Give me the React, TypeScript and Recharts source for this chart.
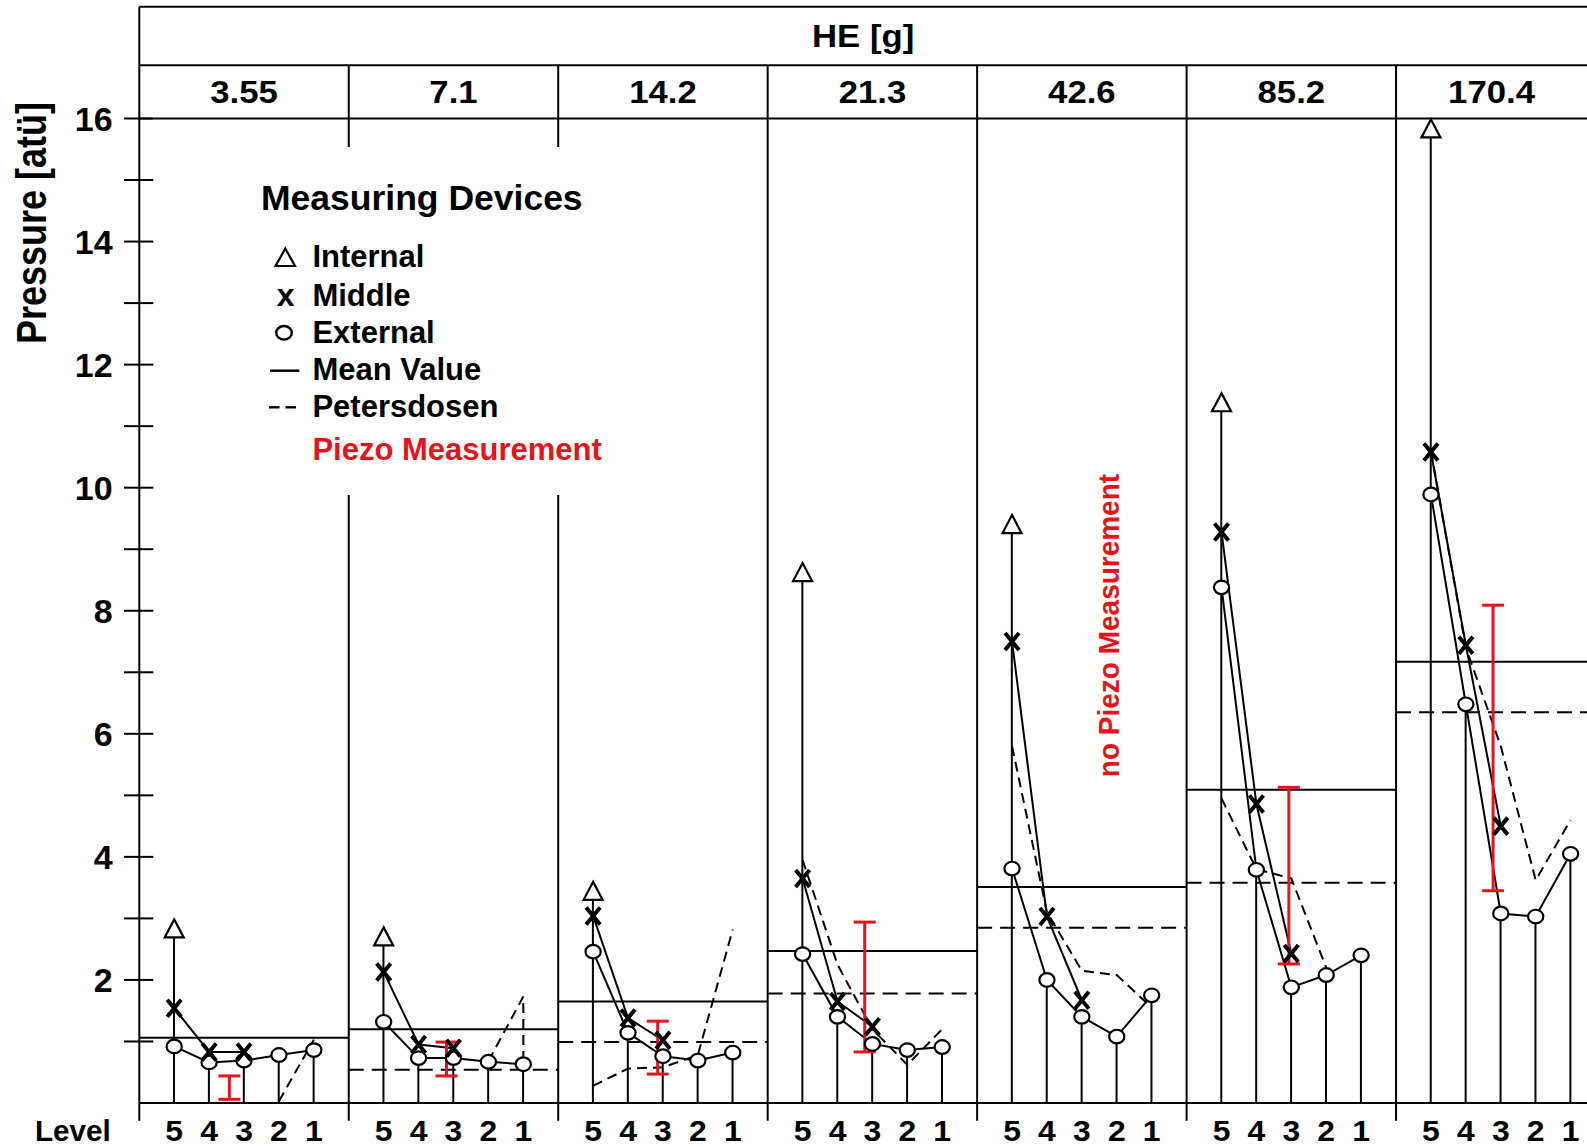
import React from "react";
import {
  ComposedChart,
  XAxis,
  YAxis,
  Bar,
  Line,
  Scatter,
  ErrorBar,
  ReferenceLine,
  ReferenceDot,
} from "recharts";

// ---------------- data ----------------
const heLabels = ["3.55", "7.1", "14.2", "21.3", "42.6", "85.2", "170.4"];
const levels = [5, 4, 3, 2, 1];
const yTicks = [1, 2, 3, 4, 5, 6, 7, 8, 9, 10, 11, 12, 13, 14, 15, 16];

// Internal device (level 5 only)
const internal = [2.83, 2.7, 3.44, 8.62, 9.4, 11.38, 15.83];
// Middle device at levels 5, 4, 3
const middle = [
  [1.54, 0.83, 0.83],
  [2.13, 0.95, 0.89],
  [3.04, 1.38, 1.02],
  [3.65, 1.65, 1.24],
  [7.5, 3.03, 1.67],
  [9.28, 4.86, 2.43],
  [10.58, 7.44, 4.5],
];
// External device at levels 5..1
const external = [
  [0.92, 0.66, 0.69, 0.78, 0.86],
  [1.32, 0.73, 0.73, 0.67, 0.63],
  [2.46, 1.14, 0.76, 0.69, 0.82],
  [2.42, 1.4, 0.96, 0.86, 0.91],
  [3.81, 2.0, 1.4, 1.08, 1.75],
  [8.38, 3.79, 1.88, 2.08, 2.4],
  [9.89, 6.48, 3.08, 3.03, 4.05],
];
const meanValue = [1.06, 1.2, 1.65, 2.47, 3.51, 5.09, 7.17];
const petersMean: (number | null)[] = [null, 0.54, 0.99, 1.78, 2.85, 3.58, 6.35];
// Petersdosen profile: [level, value]
const petersProfile: number[][][] = [
  [[2, 0.03], [1, 1.03]],
  [[2, 0.68], [1, 1.73], [1, 0.75]],
  [[5, 0.28], [4, 0.56], [3, 0.58], [2, 0.78], [1, 2.82]],
  [[5, 3.95], [4, 2.25], [3, 1.2], [2, 0.62], [1, 1.2]],
  [[5, 5.8], [4, 3.1], [3, 2.15], [2, 2.08], [1, 1.55]],
  [[5, 4.95], [4, 3.8], [3, 3.65], [2, 2.2]],
  [[5, 10.6], [4, 7.4], [3, 5.8], [2, 3.62], [1, 4.6]],
];
// Piezo measurement range (red), at a level between 4 and 3
const piezoLevel: (number | null)[] = [3.42, 3.2, 3.15, 3.22, null, 3.07, 3.22];
const piezoLow: (number | null)[] = [0.06, 0.44, 0.47, 0.83, null, 2.26, 3.45];
const piezoHigh: (number | null)[] = [0.44, 0.99, 1.33, 2.94, null, 5.13, 8.09];

// ---------------- layout / style ----------------
const FONT = "'Liberation Sans', Arial, Helvetica, sans-serif";
const RED = "#e5141b";
const BLACK = "#000";
const SLOT = 6; // x units per panel
const X_MAX = 41.47; // visible part of the x range
const HEADER_TOP = 17.817;
const HEADER_MID = 16.865;
const AXIS_LOW = -0.29;

const panels = heLabels.map((_, p) => p);
const xOf = (p: number, level: number) => p * SLOT + (SLOT - level);
// centre of the visible part of a header cell
const cellCentre = (start: number, end: number) => (start + Math.min(end, X_MAX)) / 2;

const stemData = panels.flatMap((p) =>
  levels.map((L, i) => ({ x: xOf(p, L), y: L === 5 ? internal[p] : external[p][i] }))
);
const levelTicks = panels.flatMap((p) => levels.map((L) => xOf(p, L)));
const internalData = panels.map((p) => ({ x: xOf(p, 5), y: internal[p] }));
const middleData = panels.map((p) =>
  middle[p].map((v, i) => ({ x: xOf(p, levels[i]), y: v }))
);
const externalData = panels.map((p) =>
  external[p].map((v, i) => ({ x: xOf(p, levels[i]), y: v }))
);
const meanData = panels.map((p) => [
  { x: p * SLOT, y: meanValue[p] },
  { x: p * SLOT + SLOT, y: meanValue[p] },
]);
const petersMeanData = panels
  .filter((p) => petersMean[p] !== null)
  .map((p) => [
    { x: p * SLOT, y: petersMean[p] as number },
    { x: p * SLOT + SLOT, y: petersMean[p] as number },
  ]);
const profileData = panels.map((p) =>
  petersProfile[p].map(([L, v]) => ({ x: xOf(p, L), y: v }))
);
const piezoData = panels
  .filter((p) => piezoLevel[p] !== null)
  .map((p) => {
    const lo = piezoLow[p] as number;
    const hi = piezoHigh[p] as number;
    return { x: xOf(p, piezoLevel[p] as number), y: (lo + hi) / 2, err: (hi - lo) / 2 };
  });

// ---------------- shapes ----------------
const Triangle = (props: any) => {
  const { cx, cy } = props;
  if (cx == null || cy == null) return <g />;
  return (
    <polygon
      points={`${cx},${cy - 9.5} ${cx + 9.5},${cy + 8.5} ${cx - 9.5},${cy + 8.5}`}
      fill="#fff"
      stroke={BLACK}
      strokeWidth={2.2}
      strokeLinejoin="miter"
    />
  );
};
const Cross = (props: any) => {
  const { cx, cy } = props;
  if (cx == null || cy == null) return <g />;
  return (
    <path
      d={`M${cx - 7},${cy - 8.5} L${cx + 7},${cy + 8.5} M${cx + 7},${cy - 8.5} L${cx - 7},${cy + 8.5}`}
      stroke={BLACK}
      strokeWidth={4}
      fill="none"
    />
  );
};
const Ring = (props: any) => {
  const { cx, cy } = props;
  if (cx == null || cy == null) return <g />;
  return <ellipse cx={cx} cy={cy} rx={7.6} ry={6.8} fill="#fff" stroke={BLACK} strokeWidth={2.2} />;
};
const NoMark = () => <g />;

const boldText = (
  label: string,
  x: number,
  y: number,
  size: number,
  sx: number,
  anchor: "start" | "middle" | "end",
  fill = BLACK
) => (
  <text
    transform={`translate(${x},${y}) scale(${sx},1)`}
    textAnchor={anchor}
    fontFamily={FONT}
    fontWeight="bold"
    fontSize={size}
    fill={fill}
  >
    {label}
  </text>
);

const YTick = (props: any) => {
  const { x, y, payload } = props;
  const v = payload.value;
  return (
    <g>
      <line x1={x - 15.3} x2={x + 14} y1={y} y2={y} stroke={BLACK} strokeWidth={2} />
      {v % 2 === 0 ? boldText(String(v), x - 26.6, y + 12, 34, 1.0, "end") : null}
    </g>
  );
};

const LevelTick = (props: any) => {
  const { x, y, payload } = props;
  const lvl = SLOT - Math.round(payload.value % SLOT);
  return boldText(String(lvl), x, y + 37.7, 29, 1.1, "middle");
};

const HeaderLabel = (label: string, size: number, sx: number) => (props: any) => {
  const { cx, cy } = props;
  if (cx == null || cy == null) return <g />;
  return boldText(label, cx, cy + 11, size, sx, "middle");
};

const VerticalNote = (props: any) => {
  const { cx, cy } = props;
  if (cx == null || cy == null) return <g />;
  return (
    <text
      transform={`translate(${cx},${cy}) scale(1.08,1) rotate(-90)`}
      y={10}
      textAnchor="middle"
      fontFamily={FONT}
      fontWeight="bold"
      fontSize={28}
      fill={RED}
    >
      no Piezo Measurement
    </text>
  );
};

export default function App() {
  return (
    <div style={{ position: "absolute", left: 0, top: 0, width: 1587, height: 1147, background: "#fff" }}>
      <ComposedChart
        width={1587}
        height={1147}
        data={stemData}
        margin={{ top: 118.5, right: 0, bottom: 0, left: 0 }}
      >
        <XAxis
          type="number"
          dataKey="x"
          domain={[0, X_MAX]}
          allowDataOverflow
          ticks={levelTicks}
          interval={0}
          tick={(p: any) => <LevelTick {...p} />}
          tickLine={false}
          axisLine={false}
          tickSize={0}
          tickMargin={0}
          height={44}
        />
        <YAxis
          type="number"
          domain={[0, 16]}
          ticks={yTicks}
          interval={0}
          tick={(p: any) => <YTick {...p} />}
          tickLine={false}
          axisLine={false}
          tickSize={0}
          tickMargin={0}
          width={139.3}
        />

        {/* frame: header rows, axis, baseline and panel separators */}
        <ReferenceLine y={HEADER_TOP} stroke={BLACK} strokeWidth={2} ifOverflow="visible" />
        <ReferenceLine y={HEADER_MID} stroke={BLACK} strokeWidth={2} ifOverflow="visible" />
        <ReferenceLine y={16} stroke={BLACK} strokeWidth={2} ifOverflow="visible" />
        <ReferenceLine y={0} stroke={BLACK} strokeWidth={2} ifOverflow="visible" />
        <ReferenceLine
          segment={[{ x: 0, y: AXIS_LOW }, { x: 0, y: HEADER_TOP }]}
          stroke={BLACK}
          strokeWidth={2}
          ifOverflow="visible"
        />
        {panels.slice(1).map((p) => (
          <ReferenceLine
            key={`sep${p}`}
            segment={[{ x: p * SLOT, y: AXIS_LOW }, { x: p * SLOT, y: HEADER_MID }]}
            stroke={BLACK}
            strokeWidth={2}
            ifOverflow="visible"
          />
        ))}

        {/* stems */}
        <Bar dataKey="y" barSize={2} fill={BLACK} isAnimationActive={false} />

        {/* mean values */}
        {meanData.map((d, p) => (
          <Line key={`mean${p}`} data={d} dataKey="y" stroke={BLACK} strokeWidth={2} dot={false} isAnimationActive={false} />
        ))}
        {petersMeanData.map((d, i) => (
          <Line
            key={`pmean${i}`}
            data={d}
            dataKey="y"
            stroke={BLACK}
            strokeWidth={2}
            strokeDasharray="15 8"
            dot={false}
            isAnimationActive={false}
          />
        ))}
        {profileData.map((d, p) => (
          <Line
            key={`prof${p}`}
            data={d}
            dataKey="y"
            stroke={BLACK}
            strokeWidth={2}
            strokeDasharray="10 6"
            dot={false}
            isAnimationActive={false}
          />
        ))}

        {/* device profiles */}
        {middleData.map((d, p) => (
          <Line key={`mid${p}`} data={d} dataKey="y" stroke={BLACK} strokeWidth={2} dot={false} isAnimationActive={false} />
        ))}
        {externalData.map((d, p) => (
          <Line key={`ext${p}`} data={d} dataKey="y" stroke={BLACK} strokeWidth={2} dot={false} isAnimationActive={false} />
        ))}

        <Scatter data={externalData.flat()} dataKey="y" shape={(p: any) => <Ring {...p} />} isAnimationActive={false} />
        <Scatter data={internalData} dataKey="y" shape={(p: any) => <Triangle {...p} />} isAnimationActive={false} />
        <Scatter data={middleData.flat()} dataKey="y" shape={(p: any) => <Cross {...p} />} isAnimationActive={false} />

        {/* piezo measurement ranges */}
        <Scatter data={piezoData} dataKey="y" shape={() => <NoMark />} isAnimationActive={false}>
          <ErrorBar dataKey="err" direction="y" width={11} stroke={RED} strokeWidth={3} isAnimationActive={false} />
        </Scatter>

        {/* header texts */}
        <ReferenceDot
          x={cellCentre(0, panels.length * SLOT)}
          y={(HEADER_TOP + HEADER_MID) / 2}
          ifOverflow="visible"
          shape={HeaderLabel("HE [g]", 31, 1.12)}
        />
        {panels.map((p) => (
          <ReferenceDot
            key={`he${p}`}
            x={cellCentre(p * SLOT, p * SLOT + SLOT)}
            y={(HEADER_MID + 16) / 2}
            ifOverflow="visible"
            shape={HeaderLabel(heLabels[p], 31, 1.12)}
          />
        ))}
        <ReferenceDot x={4 * SLOT + 3.74} y={7.76} ifOverflow="visible" shape={(p: any) => <VerticalNote {...p} />} />
      </ComposedChart>

      {/* axis title, legend and row label */}
      <svg
        width={1587}
        height={1147}
        style={{ position: "absolute", left: 0, top: 0, pointerEvents: "none" }}
      >
        <text
          transform="translate(31,223) scale(1.18,1) rotate(-90)"
          y={12.9}
          textAnchor="middle"
          fontFamily={FONT}
          fontWeight="bold"
          fontSize={36}
          fill={BLACK}
        >
          Pressure [atü]
        </text>

        <rect x={156} y={147} width={494} height={348} fill="#fff" />
        {boldText("Measuring Devices", 261, 210, 35.5, 1, "start")}
        <polygon points="285.3,248.5 295,266 275.6,266" fill="#fff" stroke={BLACK} strokeWidth={2.2} />
        {boldText("Internal", 312.4, 267.3, 31, 1, "start")}
        {boldText("x", 285.7, 305.7, 32, 1, "middle")}
        {boldText("Middle", 312.4, 305.7, 31, 1, "start")}
        <ellipse cx={284} cy={332.8} rx={7.8} ry={6.8} fill="#fff" stroke={BLACK} strokeWidth={2.4} />
        {boldText("External", 312.4, 343.3, 31, 1, "start")}
        <line x1={270} x2={299.3} y1={370.7} y2={370.7} stroke={BLACK} strokeWidth={2.4} />
        {boldText("Mean Value", 312.4, 380, 31, 1, "start")}
        <line x1={269} x2={279.5} y1={407.3} y2={407.3} stroke={BLACK} strokeWidth={2.4} />
        <line x1={285.5} x2={296} y1={407.3} y2={407.3} stroke={BLACK} strokeWidth={2.4} />
        {boldText("Petersdosen", 312.4, 417.3, 31, 1, "start")}
        {boldText("Piezo Measurement", 312.4, 460, 31, 1, "start", RED)}

        {boldText("Level", 35, 1140.7, 29, 1.02, "start")}
      </svg>
    </div>
  );
}
